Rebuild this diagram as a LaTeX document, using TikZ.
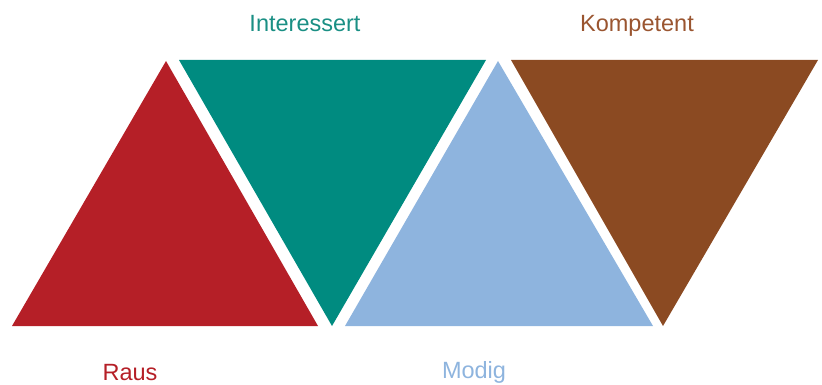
\documentclass[tikz,border=0pt]{standalone}
\usepackage{fontspec}
\setmainfont{Liberation Sans}
\definecolor{cred}{HTML}{B51F27}
\definecolor{cteal}{HTML}{008B80}
\definecolor{cblue}{HTML}{8EB4DE}
\definecolor{cbrown}{HTML}{8B4A22}
\definecolor{tteal}{HTML}{1A8F84}
\definecolor{tbrown}{HTML}{9A5530}
\begin{document}
\begin{tikzpicture}[x=1pt,y=-1pt,
  lbl/.style={anchor=base,inner sep=0pt,font=\fontsize{23.5}{28}\selectfont}]
\useasboundingbox (0,0) rectangle (822,385);
% red triangle
\fill[cred] (166,61) -- (318,326) -- (12,326) -- cycle;
% teal inverted triangle
\fill[cteal] (179,60) -- (486,60) -- (332,326) -- cycle;
% light blue triangle
\fill[cblue] (498,61) -- (653,326) -- (345,326) -- cycle;
% brown inverted triangle
\fill[cbrown] (511,60) -- (818,60) -- (663,326) -- cycle;
% labels
\node[lbl,text=tteal] (int) at (305,31.5) {Interessert};
\node[lbl,text=tbrown] (komp) at (637,31.5) {Kompetent};
\node[lbl,text=cred] (raus) at (130,380) {Raus};
\node[lbl,text=cblue] (modig) at (474,378) {Modig};
\end{tikzpicture}
\end{document}
